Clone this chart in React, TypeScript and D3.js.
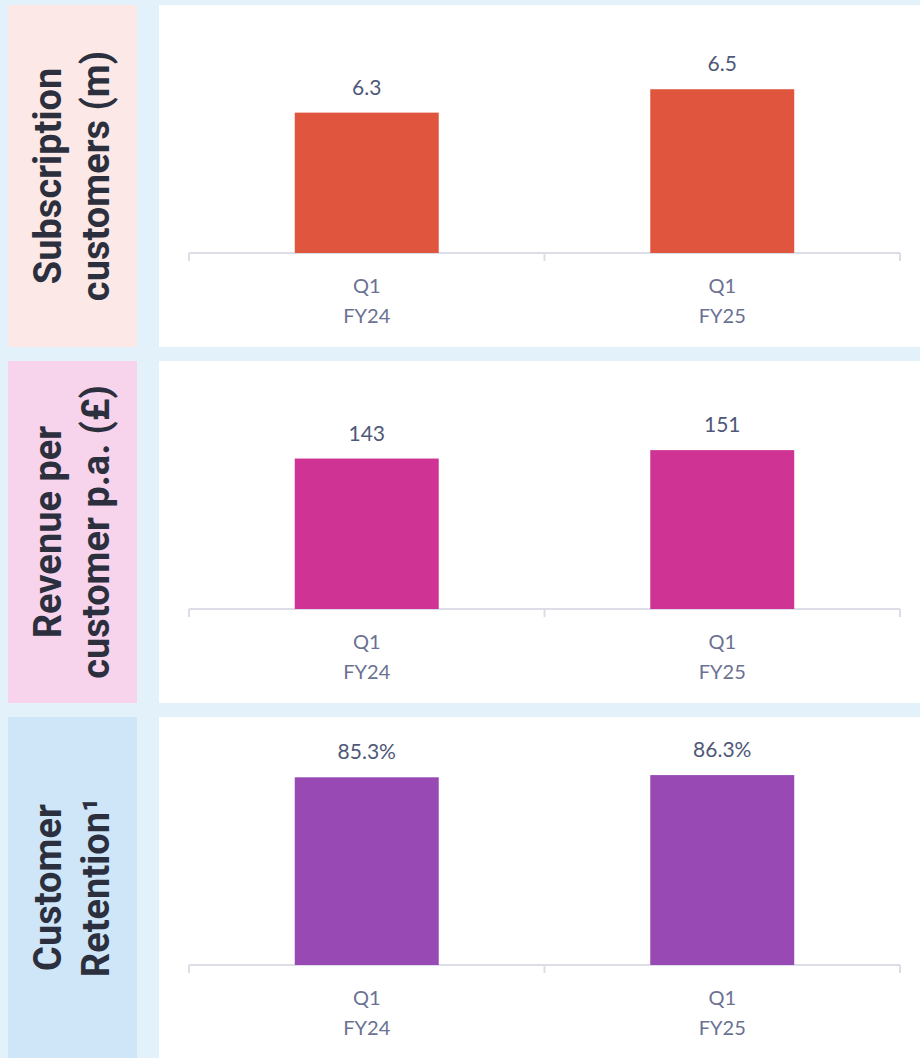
import React from "react";
import * as d3 from "d3";

const width = 920;
const height = 1058;

// data
const categories = ["Q1 FY24", "Q1 FY25"];
const subscriptionCustomers = [6.3, 6.5];
const revenuePerCustomer = [143, 151];
const customerRetention = [85.3, 86.3];

const labelSubscription = ["Subscription", "customers (m)"];
const labelRevenue = ["Revenue per", "customer p.a. (£)"];
const labelRetention = ["Customer", "Retention¹"];

const panels = [
  {
    label: labelSubscription,
    values: subscriptionCustomers,
    fmt: (d: number) => d.toFixed(1),
    color: "#e0553d",
    labelBg: "#fce9e7",
    top: 5,
    bottom: 347,
    domain: [5.1, 7.22],
  },
  {
    label: labelRevenue,
    values: revenuePerCustomer,
    fmt: (d: number) => d3.format("d")(d),
    color: "#cf3495",
    labelBg: "#f7d4ec",
    top: 361,
    bottom: 703,
    domain: [0, 235.7],
  },
  {
    label: labelRetention,
    values: customerRetention,
    fmt: (d: number) => d.toFixed(1) + "%",
    color: "#9849b3",
    labelBg: "#cfe6f8",
    top: 717,
    bottom: 1058,
    domain: [0, 112.7],
  },
];

const x = d3
  .scaleBand<string>()
  .domain(categories)
  .range([189, 900])
  .paddingInner(0.595)
  .paddingOuter(0.2975);

const gap = (x.step() - x.bandwidth()) / 2;
const boundaries = categories
  .map((c) => (x(c) as number) - gap)
  .concat([x.range()[1]]);

const Panel = ({ p }: { p: (typeof panels)[number] }) => {
  const baseline = p.top + 248;
  const y = d3.scaleLinear().domain(p.domain).range([baseline, p.top]);
  const cy = (p.top + p.bottom) / 2;
  return (
    <g>
      <rect x={8} y={p.top} width={129} height={p.bottom - p.top} fill={p.labelBg} />
      <rect x={159} y={p.top} width={761} height={p.bottom - p.top} fill="#ffffff" />
      <text
        transform={`translate(0, ${cy}) rotate(-90)`}
        textAnchor="middle"
        fontFamily="Roboto, sans-serif"
        fontWeight={700}
        fontSize={38}
        fill="#2b2f3e"
      >
        <tspan x={0} y={61}>{p.label[0]}</tspan>
        <tspan x={0} y={109}>{p.label[1]}</tspan>
      </text>

      {/* axis */}
      <line x1={x.range()[0]} x2={x.range()[1]} y1={baseline} y2={baseline} stroke="#dcdde6" strokeWidth={2} />
      {boundaries.map((b, i) => (
        <line key={i} x1={b} x2={b} y1={baseline} y2={baseline + 8} stroke="#dcdde6" strokeWidth={2} />
      ))}

      {categories.map((c, i) => {
        const v = p.values[i];
        const bx = x(c) as number;
        return (
          <g key={c}>
            <rect x={bx} y={y(v)} width={x.bandwidth()} height={baseline - y(v)} fill={p.color} />
            <text
              x={bx + x.bandwidth() / 2}
              y={y(v) - 18}
              textAnchor="middle"
              fontFamily="Lato, sans-serif"
              fontSize={21}
              fill="#4f5878"
            >
              {p.fmt(v)}
            </text>
            <text
              x={bx + x.bandwidth() / 2}
              textAnchor="middle"
              fontFamily="Lato, sans-serif"
              fontSize={20}
              fill="#6a7192"
            >
              {c.split(" ").map((part, j) => (
                <tspan key={j} x={bx + x.bandwidth() / 2} y={baseline + 40 + j * 30}>
                  {part}
                </tspan>
              ))}
            </text>
          </g>
        );
      })}
    </g>
  );
};

export default function App() {
  return (
    <svg
      width={width}
      height={height}
      style={{ position: "absolute", left: 0, top: 0, display: "block" }}
    >
      <rect width={width} height={height} fill="#e3f2fa" />
      {panels.map((p, i) => (
        <Panel key={i} p={p} />
      ))}
    </svg>
  );
}
